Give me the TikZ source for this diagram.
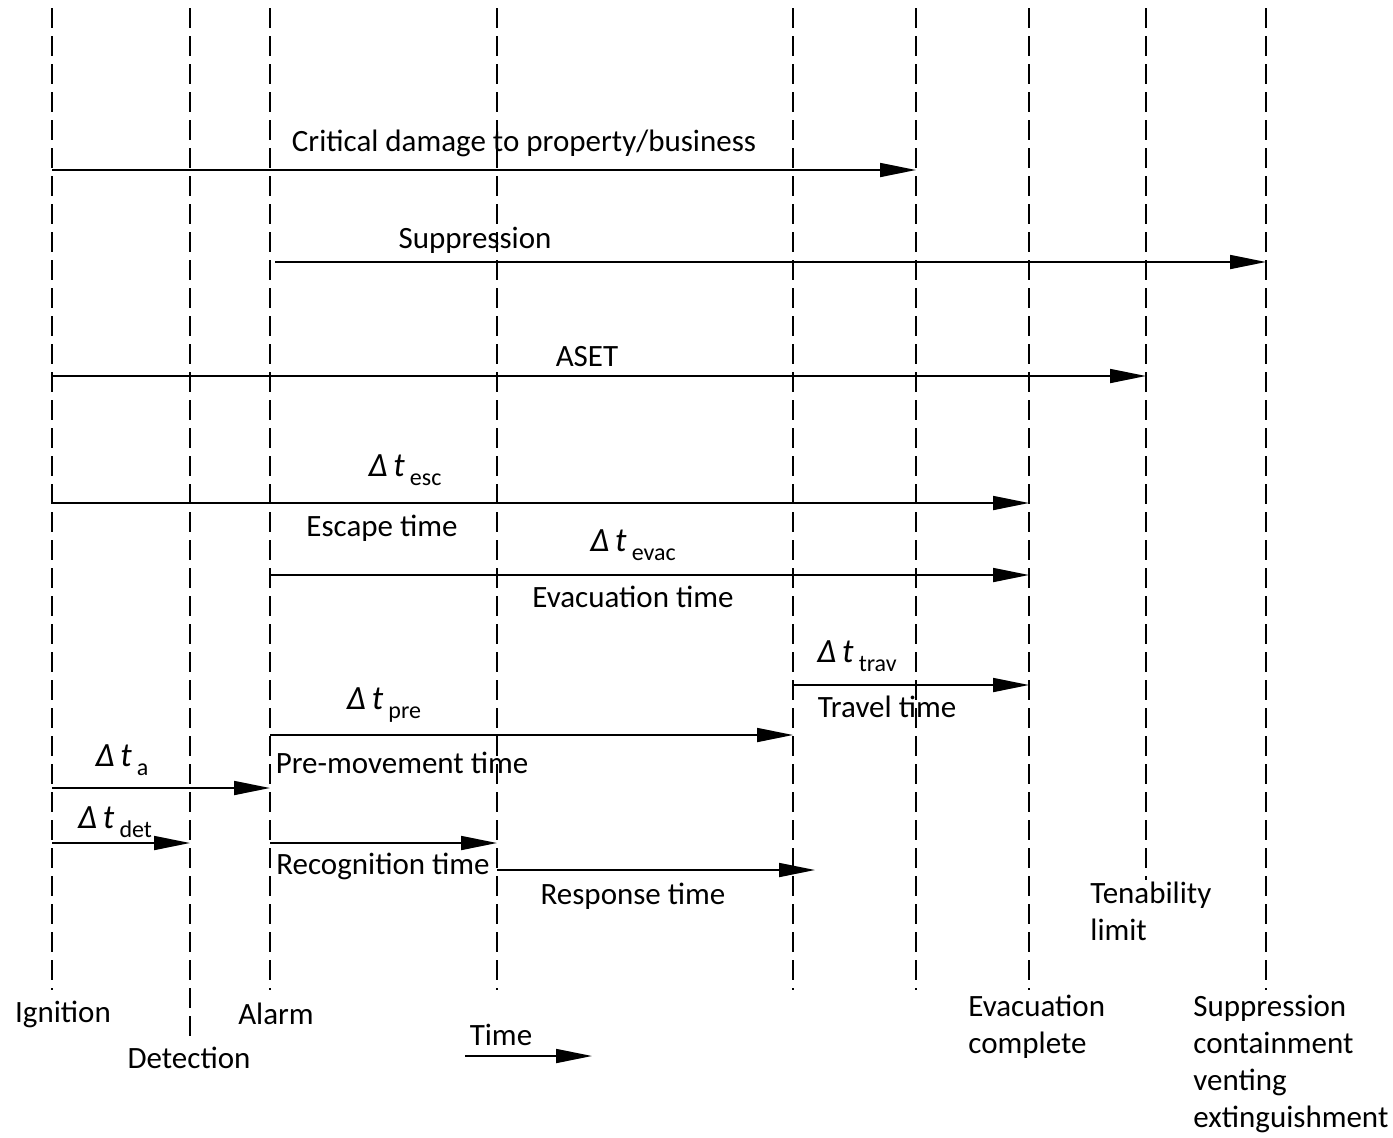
\documentclass[tikz,border=0pt]{standalone}
\usepackage{fontspec}
\setmainfont{Carlito}
\usetikzlibrary{arrows.meta, positioning}

% interval symbol with subscript
\newcommand{\dtime}[1]{{\fontsize{17}{17}\selectfont\textit{Δ\,t}}\,\raisebox{-0.6ex}{\fontsize{12}{12}\selectfont #1}}

\begin{document}
\begin{tikzpicture}[x=0.5pt, y=-0.5pt,
  timeline/.style={line width=0.7pt, dash pattern=on 10pt off 4pt},
  span/.style={line width=0.9pt, -{Triangle[length=18pt, width=7pt]}},
  lbl/.style={font=\fontsize{15.5}{18.5}\selectfont, inner sep=0pt},
  multi/.style={lbl, align=left, anchor=north west}]
  \useasboundingbox (0,0) rectangle (1393,1137);

  % Time points (dashed lines)
  \coordinate (ign) at (52,8);
  \coordinate (det) at (190,8);
  \coordinate (alarm) at (270,8);
  \coordinate (recog) at (497,8);
  \coordinate (premov) at (793,8);
  \coordinate (crit) at (916,8);
  \coordinate (evac) at (1029,8);
  \coordinate (tenab) at (1146,8);
  \coordinate (supp) at (1266,8);
  \draw[timeline] (ign) -- ++(0,982);
  \draw[timeline] (det) -- ++(0,1034);
  \draw[timeline] (alarm) -- ++(0,982);
  \draw[timeline] (recog) -- ++(0,982);
  \draw[timeline] (premov) -- ++(0,982);
  \draw[timeline] (crit) -- ++(0,982);
  \draw[timeline] (evac) -- ++(0,982);
  \draw[timeline] (tenab) -- ++(0,872);
  \draw[timeline] (supp) -- ++(0,982);

  % Rows of the interval arrows
  \coordinate (r1) at (0,170);
  \coordinate (r2) at (0,262);
  \coordinate (r3) at (0,376);
  \coordinate (r4) at (0,503);
  \coordinate (r5) at (0,575);
  \coordinate (r6) at (0,685);
  \coordinate (r7) at (0,735);
  \coordinate (r8) at (0,788);
  \coordinate (r9) at (0,843);
  \coordinate (r10) at (0,870);
  \coordinate (suppstart) at (275,262);
  \coordinate (respend) at (815,870);

  % Critical damage
  \draw[span] (ign |- r1) -- (crit |- r1);
  \node[lbl] (critlbl) at (524,143) {Critical damage to property/business};
  % Suppression
  \draw[span] (suppstart) -- (supp |- r2);
  \node[lbl] (supplbl) at (475,240) {Suppression};
  % ASET
  \draw[span] (ign |- r3) -- (tenab |- r3);
  \node[lbl] (aset) at (587,357) {ASET};
  % Escape time
  \draw[span] (ign |- r4) -- (evac |- r4);
  \node[lbl] (esc) at (405,470) {\dtime{esc}};
  \node[lbl] (esclbl) at (382,528) {Escape time};
  % Evacuation time
  \draw[span] (alarm |- r5) -- (evac |- r5);
  \node[lbl] (evacdt) at (633,545) {\dtime{evac}};
  \node[lbl] (evaclbl) at (633,597) {Evacuation time};
  % Travel time
  \draw[span] (premov |- r6) -- (evac |- r6);
  \node[lbl] (trav) at (857,656) {\dtime{trav}};
  \node[lbl] (travlbl) at (887,707) {Travel time};
  % Pre-movement time
  \draw[span] (alarm |- r7) -- (premov |- r7);
  \node[lbl] (pre) at (384,705) {\dtime{pre}};
  \node[lbl] (prelbl) at (402,763) {Pre-movement time};
  % Alarm time
  \draw[span] (ign |- r8) -- (alarm |- r8);
  \node[lbl] (dta) at (122,760) {\dtime{a}};
  % Detection time
  \draw[span] (ign |- r9) -- (det |- r9);
  \node[lbl] (dtdet) at (115,822) {\dtime{det}};
  % Recognition and response
  \draw[span] (alarm |- r9) -- (recog |- r9);
  \node[lbl] (recoglbl) at (383,866) {Recognition time};
  \draw[span] (recog |- r10) -- (respend);
  \node[lbl] (resplbl) at (633,896) {Response time};

  % Labels of the time points
  \node[multi] (tenablbl) at (1090,882) {Tenability\\limit};
  \node[lbl] (ignlbl) at (63,1014) {Ignition};
  \node[lbl] (detlbl) at (189,1058) {Detection};
  \node[lbl] (alarmlbl) at (276,1014) {Alarm};
  \node[multi] (evaclbl2) at (968,995) {Evacuation\\complete};
  \node[multi] (supplbl2) at (1193,995) {Suppression\\containment\\venting\\extinguishment};

  % Time axis
  \coordinate (tstart) at (465,1056);
  \coordinate (tend) at (592,1056);
  \draw[span] (tstart) -- (tend);
  \node[lbl] (timelbl) at (501,1035) {Time};
\end{tikzpicture}
\end{document}
